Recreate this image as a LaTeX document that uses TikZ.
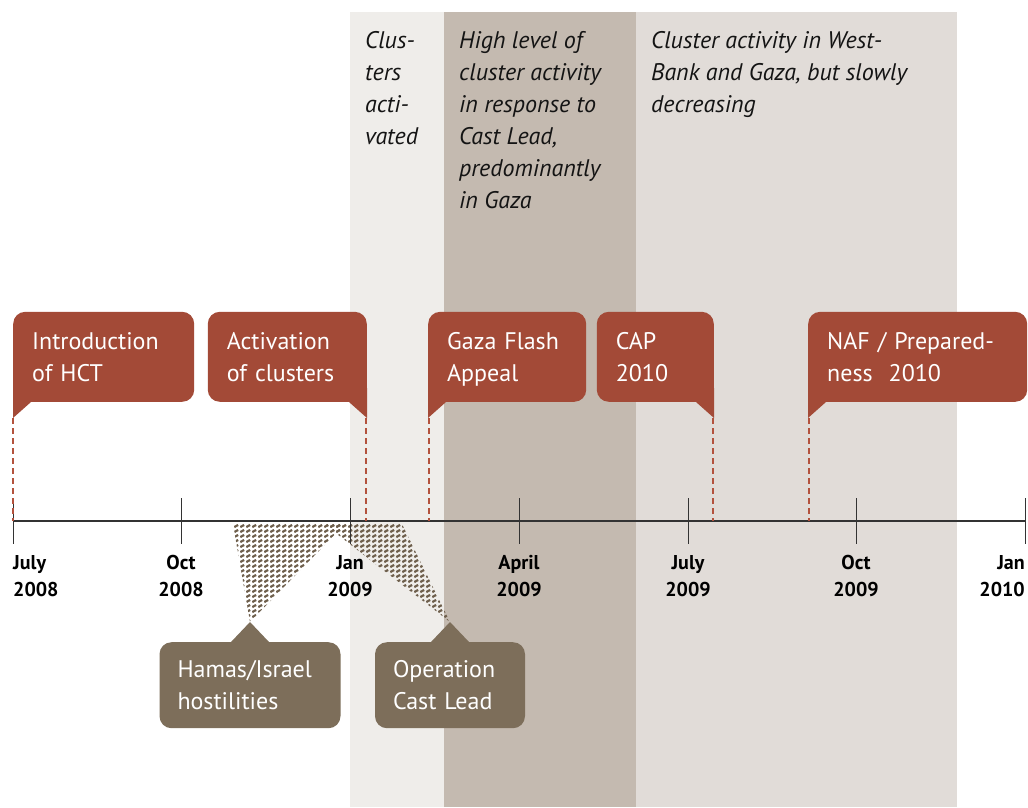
\documentclass[tikz,border=0pt]{standalone}
\usepackage{fontspec}
\setmainfont{PT Sans}
\usetikzlibrary{positioning,patterns.meta}
\definecolor{CalloutRed}{HTML}{A34A37}
\definecolor{CalloutBrown}{HTML}{7D6E5A}
\definecolor{HatchBrown}{HTML}{6E5F4C}
\definecolor{PhaseLight}{HTML}{EFEDEA}
\definecolor{PhaseDark}{HTML}{C4BAB0}
\definecolor{PhaseMid}{HTML}{E1DCD8}
\definecolor{LeaderRed}{HTML}{B3523D}
\tikzdeclarepattern{
  name=dashrows,
  type=uncolored,
  bounding box={(0pt,0pt) and (6pt,5pt)},
  tile size={(6pt,5pt)},
  code={\draw[line width=2.6pt] (0.3pt,1.1pt) -- (4.8pt,3.6pt);}
}

\begin{document}
\begin{tikzpicture}[
  x=1pt, y=-1pt,
  redbox/.style={fill=CalloutRed, text=white, rounded corners=12pt, align=left,
    minimum height=90pt, inner xsep=19pt, font=\fontsize{24}{32}\selectfont},
  brownbox/.style={fill=CalloutBrown, text=white, rounded corners=12pt, align=left,
    minimum height=86pt, inner xsep=18pt, font=\fontsize{24}{32}\selectfont},
  phase/.style={align=left, anchor=north west, inner sep=0pt, text=black!92,
    font=\fontsize{24}{32}\selectfont\itshape},
  datelabel/.style={align=center, anchor=north, inner sep=0pt,
    font=\fontsize{20}{27}\selectfont\bfseries},
  leader/.style={draw=LeaderRed, line width=2.2pt, dash pattern=on 6pt off 4pt},
  tickmark/.style={draw=black!80, line width=1pt},
  timeline/.style={draw=black!80, line width=1.6pt},
  hatch/.style={pattern={dashrows}, pattern color=HatchBrown}
]
\useasboundingbox (0,0) rectangle (1028,807);

% phases
\fill[PhaseLight] (350,12) rectangle (444,807);
\fill[PhaseDark] (444,12) rectangle (636,807);
\fill[PhaseMid] (636,12) rectangle (957,807);
\node[phase] (activated) at (365,31) {Clus-\\ters\\acti-\\vated};
\node[phase] (response) at (459,31) {High level of\\cluster activity\\in response to\\Cast Lead,\\predominantly\\in Gaza};
\node[phase] (decreasing) at (651,31) {Cluster activity in West-\\Bank and Gaza, but slowly\\decreasing};

% hostilities
\coordinate (hamastip) at (250,622);
\coordinate (casttip) at (450,622);
\fill[hatch] (233,524) -- (345,524) -- (hamastip) -- cycle;
\fill[hatch] (324,524) -- (402,524) -- (casttip) -- cycle;

% timeline
\coordinate (axisstart) at (13,521);
\coordinate (axisend) at (1026,521);
\draw[timeline] (axisstart) -- (axisend);
\draw[tickmark] (13,498) -- (13,544);
\draw[tickmark] (181,498) -- (181,544);
\draw[tickmark] (350,498) -- (350,544);
\draw[tickmark] (519,498) -- (519,544);
\draw[tickmark] (688,498) -- (688,544);
\draw[tickmark] (856,498) -- (856,544);
\draw[tickmark] (1025,498) -- (1025,544);
\node[datelabel, anchor=north west, align=left] (jul08) at (13,555) {July\\2008};
\node[datelabel] (oct08) at (181,555) {Oct\\2008};
\node[datelabel] (jan09) at (350,555) {Jan\\2009};
\node[datelabel] (apr09) at (519,555) {April\\2009};
\node[datelabel] (jul09) at (688,555) {July\\2009};
\node[datelabel] (oct09) at (856,555) {Oct\\2009};
\node[datelabel, anchor=north east, align=right] (jan10) at (1025,555) {Jan\\2010};

% events
\coordinate (hcttip) at (13,418);
\coordinate (acttip) at (367,418);
\coordinate (gazatip) at (428,418);
\coordinate (captip) at (714,418);
\coordinate (naftip) at (808,418);
\draw[leader] (hcttip) -- (hcttip |- axisstart);
\draw[leader] ([xshift=-1pt]acttip) -- ([xshift=-1pt]acttip |- axisstart);
\draw[leader] ([xshift=1pt]gazatip) -- ([xshift=1pt]gazatip |- axisstart);
\draw[leader] ([xshift=-1pt]captip) -- ([xshift=-1pt]captip |- axisstart);
\draw[leader] ([xshift=1pt]naftip) -- ([xshift=1pt]naftip |- axisstart);

\node[redbox, text width=143pt, above right=16pt and 0pt of hcttip] (hct) {Introduction\\of HCT};
\node[redbox, text width=121pt, above left=16pt and 0pt of acttip] (act) {Activation\\of clusters};
\node[redbox, text width=120pt, above right=16pt and 0pt of gazatip] (gaza) {Gaza Flash\\A\smash{pp}eal};
\node[redbox, text width=79pt, above left=16pt and 0pt of captip] (cap) {CAP\\2010};
\node[redbox, text width=181pt, inner xsep=19pt, above right=16pt and 0pt of naftip] (naf) {NAF / Prepared-\\ness\ \ 2010};
\fill[CalloutRed] (hcttip) -- ([xshift=18pt]hct.south west) -- ([xshift=18pt,yshift=14pt]hct.south west) -- ([yshift=14pt]hct.south west) -- cycle;
\fill[CalloutRed] (acttip) -- ([xshift=-18pt]act.south east) -- ([xshift=-18pt,yshift=14pt]act.south east) -- ([yshift=14pt]act.south east) -- cycle;
\fill[CalloutRed] (gazatip) -- ([xshift=18pt]gaza.south west) -- ([xshift=18pt,yshift=14pt]gaza.south west) -- ([yshift=14pt]gaza.south west) -- cycle;
\fill[CalloutRed] (captip) -- ([xshift=-18pt]cap.south east) -- ([xshift=-18pt,yshift=14pt]cap.south east) -- ([yshift=14pt]cap.south east) -- cycle;
\fill[CalloutRed] (naftip) -- ([xshift=18pt]naf.south west) -- ([xshift=18pt,yshift=14pt]naf.south west) -- ([yshift=14pt]naf.south west) -- cycle;

\node[brownbox, text width=145pt, below=20pt of hamastip] (hamas) {Hamas/Israel\\hostilities};
\node[brownbox, text width=114pt, below=20pt of casttip] (cast) {Operation\\Cast Lead};
\fill[CalloutBrown] (hamastip) -- ([xshift=-19pt]hamas.north) -- ([xshift=19pt]hamas.north) -- cycle;
\fill[CalloutBrown] (casttip) -- ([xshift=-19pt]cast.north) -- ([xshift=19pt]cast.north) -- cycle;
\end{tikzpicture}
\end{document}
